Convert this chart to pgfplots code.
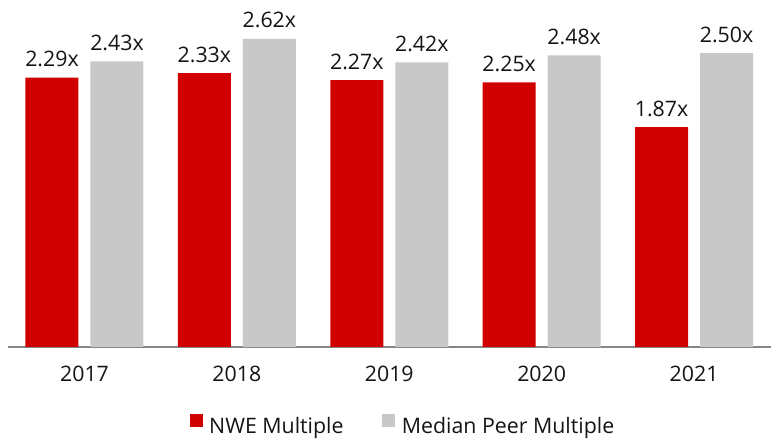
\documentclass[border=0pt]{standalone}
\usepackage{fontspec}
\setmainfont{Open Sans}
\usepackage{pgfplots}
\pgfplotsset{compat=1.18}
\definecolor{nwered}{RGB}{208,0,0}
\definecolor{peergray}{RGB}{200,200,200}
\definecolor{axisgray}{RGB}{134,134,134}
\definecolor{txt}{RGB}{20,20,20}
\begin{document}
\begin{tikzpicture}
\useasboundingbox (0,0) rectangle (582pt,334.5pt);
\begin{axis}[
    at={(6pt,74.25pt)}, anchor=south west,
    scale only axis,
    width=572.25pt, height=260.25pt,
    font=\fontsize{16}{19}\selectfont,
    /pgf/number format/assume math mode=true,
    ybar=9pt, bar width=39.75pt,
    ymin=0, ymax=2.951,
    xmin=-0.502, xmax=4.505,
    axis y line=none,
    axis x line*=bottom,
    x axis line style={draw=axisgray, line width=1.5pt, -},
    xtick={0,1,2,3,4},
    xticklabels={2017,2018,2019,2020,2021},
    major tick length=0pt,
    xticklabel style={yshift=-10.5pt, text=txt},
    nodes near coords={\pgfmathprintnumber[fixed,fixed zerofill,precision=2]{\pgfplotspointmeta}x},
    every node near coord/.append style={font=\fontsize{16}{19}\selectfont, yshift=4.5pt, text=txt},
    legend columns=2,
    legend style={draw=none, fill=none, at={(0.518,-0.2277)}, anchor=center,
        font=\fontsize{16}{19}\selectfont, text=txt,
        /tikz/every odd column/.append style={column sep=3pt},
        /tikz/every even column/.append style={column sep=27pt}},
    legend image code/.code={\fill[#1] (0pt,0pt) rectangle (9.75pt,9.75pt);},
]
\addplot[fill=nwered, draw=none] coordinates {(0,2.29) (1,2.33) (2,2.27) (3,2.25) (4,1.87)};
\addplot[fill=peergray, draw=none] coordinates {(0,2.43) (1,2.62) (2,2.42) (3,2.48) (4,2.50)};
\legend{NWE Multiple, Median Peer Multiple}
\end{axis}
\end{tikzpicture}
\end{document}
